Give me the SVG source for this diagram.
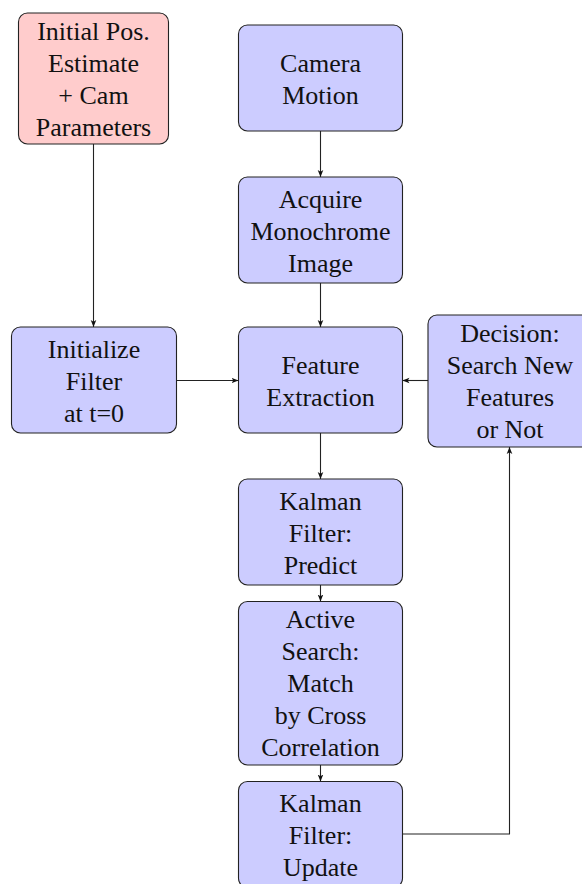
<svg xmlns="http://www.w3.org/2000/svg" width="582" height="884" viewBox="0 0 582 884">
<style>
.b{fill:#ccccff;stroke:#222;stroke-width:1.1}
.p{fill:#ffcccc;stroke:#222;stroke-width:1.1}
text{font-family:"Liberation Serif","Times New Roman",serif;font-size:26px;fill:#111;text-anchor:middle}
.c{fill:none;stroke:#222;stroke-width:1.1}
</style>
<defs>
<marker id="ah" viewBox="0 0 10 10" refX="10" refY="5" markerWidth="7" markerHeight="7" markerUnits="userSpaceOnUse" orient="auto">
<path d="M0,1 L10,5 L0,9 L2.5,5 Z" fill="#111"/>
</marker>
</defs>
<rect width="582" height="884" fill="#fff"/>
<g id="connectors">
<path class="c" d="M93.5,144 V327" marker-end="url(#ah)"/>
<path class="c" d="M320.5,131 V177" marker-end="url(#ah)"/>
<path class="c" d="M320.5,283 V327" marker-end="url(#ah)"/>
<path class="c" d="M176.5,380.5 H238.5" marker-end="url(#ah)"/>
<path class="c" d="M428,380.5 H402.5" marker-end="url(#ah)"/>
<path class="c" d="M320.5,433 V479" marker-end="url(#ah)"/>
<path class="c" d="M320.5,585 V601.5" marker-end="url(#ah)"/>
<path class="c" d="M320.5,765 V781.5" marker-end="url(#ah)"/>
<path class="c" d="M402.5,834 H509.5 V447" marker-end="url(#ah)"/>
</g>
<g id="init-pos">
<rect class="p" x="18.5" y="13" width="150" height="131" rx="9"/>
<text x="93.5" y="39.5">Initial Pos.</text>
<text x="93.5" y="71.5">Estimate</text>
<text x="93.5" y="103.5">+ Cam</text>
<text x="93.5" y="135.5">Parameters</text>
</g>
<g id="camera-motion">
<rect class="b" x="238.5" y="25" width="164" height="106" rx="9"/>
<text x="320.5" y="71.5">Camera</text>
<text x="320.5" y="103.5">Motion</text>
</g>
<g id="acquire">
<rect class="b" x="238.5" y="177" width="164" height="106" rx="9"/>
<text x="320.5" y="207.5">Acquire</text>
<text x="320.5" y="239.5">Monochrome</text>
<text x="320.5" y="271.5">Image</text>
</g>
<g id="initialize">
<rect class="b" x="11.5" y="327" width="165" height="106" rx="9"/>
<text x="94" y="357.5">Initialize</text>
<text x="94" y="389.5">Filter</text>
<text x="94" y="421.5">at t=0</text>
</g>
<g id="feature">
<rect class="b" x="238.5" y="327" width="164" height="106" rx="9"/>
<text x="320.5" y="373.5">Feature</text>
<text x="320.5" y="405.5">Extraction</text>
</g>
<g id="decision">
<rect class="b" x="428" y="315" width="166" height="132" rx="9"/>
<text x="510" y="342">Decision:</text>
<text x="510" y="374">Search New</text>
<text x="510" y="406">Features</text>
<text x="510" y="438">or Not</text>
</g>
<g id="predict">
<rect class="b" x="238.5" y="479" width="164" height="106" rx="9"/>
<text x="320.5" y="509.5">Kalman</text>
<text x="320.5" y="541.5">Filter:</text>
<text x="320.5" y="573.5">Predict</text>
</g>
<g id="active-search">
<rect class="b" x="238.5" y="601.5" width="164" height="163.5" rx="9"/>
<text x="320.5" y="628">Active</text>
<text x="320.5" y="660">Search:</text>
<text x="320.5" y="692">Match</text>
<text x="320.5" y="724">by Cross</text>
<text x="320.5" y="756">Correlation</text>
</g>
<g id="update">
<rect class="b" x="238.5" y="781.5" width="164" height="106" rx="9"/>
<text x="320.5" y="811.5">Kalman</text>
<text x="320.5" y="843.5">Filter:</text>
<text x="320.5" y="875.5">Update</text>
</g>
</svg>
